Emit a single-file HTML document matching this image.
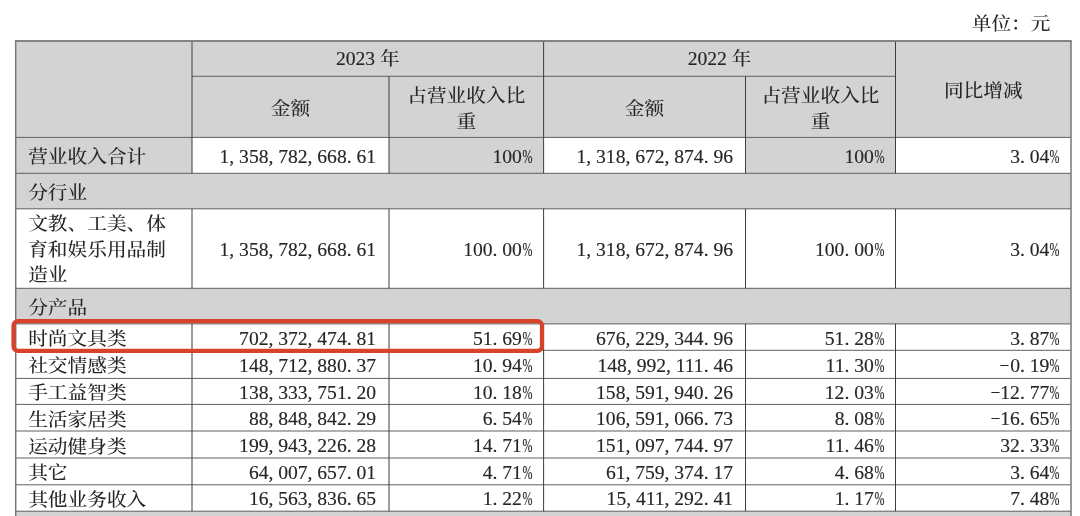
<!DOCTYPE html>
<html lang="zh-CN">
<head>
<meta charset="utf-8">
<title>营业收入构成</title>
<style>
html,body{margin:0;padding:0;background:#fff;}
body{width:1080px;height:516px;position:relative;overflow:hidden;
 font-family:"Liberation Serif","Noto Serif CJK SC",serif;color:#262626;}
svg{position:absolute;left:0;top:0;}
.c,.n{position:absolute;display:flex;align-items:center;white-space:nowrap;}
.c{justify-content:center;font-family:"Liberation Serif","Noto Serif CJK SC",serif;font-weight:500;font-size:19.7px;line-height:26px;text-align:center;}
.c.l{justify-content:flex-start;text-align:left;}
.c em{font-style:normal;font-weight:400;-webkit-text-stroke:0.15px #262626;font-size:19.6px;letter-spacing:-0.02px;}
.n{justify-content:flex-end;-webkit-text-stroke:0.15px #262626;font-family:"Liberation Serif",serif;font-size:19.6px;letter-spacing:-0.02px;line-height:26px;}
.n i{font-style:normal;display:inline-block;width:9.78px;text-align:left;letter-spacing:0;}
.n i b{font-weight:normal;display:inline-block;transform-origin:0 50%;}
.n i.p b{transform:translateX(0.6px) scaleX(.61);}
.n i.m b{transform:translateX(-0.5px) scaleX(.9);-webkit-text-stroke:0;}
.c span{display:block;position:relative;top:1px;transform:scaleY(.94);}
.n span{display:block;position:relative;top:1.5px;}
</style>
</head>
<body>
<svg width="1080" height="516" viewBox="0 0 1080 516">
<rect x="15.70" y="41.00" width="1055.30" height="96.40" fill="#d3d3d3"/>
<rect x="15.70" y="137.40" width="176.30" height="35.90" fill="#d3d3d3"/>
<rect x="389.00" y="137.40" width="154.60" height="35.90" fill="#d3d3d3"/>
<rect x="745.50" y="137.40" width="150.00" height="35.90" fill="#d3d3d3"/>
<rect x="15.70" y="173.30" width="1055.30" height="35.50" fill="#d3d3d3"/>
<rect x="15.70" y="288.30" width="1055.30" height="35.60" fill="#d3d3d3"/>
<rect x="15.70" y="511.20" width="1055.30" height="4.80" fill="#d3d3d3"/>
<rect x="192.00" y="75.80" width="703.50" height="1.00" fill="#606060"/>
<rect x="15.70" y="136.90" width="1055.30" height="1.00" fill="#606060"/>
<rect x="15.70" y="172.80" width="1055.30" height="1.00" fill="#606060"/>
<rect x="15.70" y="208.30" width="1055.30" height="1.00" fill="#606060"/>
<rect x="15.70" y="287.80" width="1055.30" height="1.00" fill="#606060"/>
<rect x="15.70" y="323.40" width="1055.30" height="1.00" fill="#606060"/>
<rect x="15.70" y="349.80" width="1055.30" height="1.00" fill="#606060"/>
<rect x="15.70" y="377.90" width="1055.30" height="1.00" fill="#606060"/>
<rect x="15.70" y="403.90" width="1055.30" height="1.00" fill="#606060"/>
<rect x="15.70" y="430.50" width="1055.30" height="1.00" fill="#606060"/>
<rect x="15.70" y="457.50" width="1055.30" height="1.00" fill="#606060"/>
<rect x="15.70" y="484.30" width="1055.30" height="1.00" fill="#606060"/>
<rect x="15.70" y="510.70" width="1055.30" height="1.00" fill="#606060"/>
<rect x="191.50" y="41.00" width="1.00" height="132.30" fill="#3e3e3e"/>
<rect x="191.50" y="208.80" width="1.00" height="79.50" fill="#3e3e3e"/>
<rect x="191.50" y="323.90" width="1.00" height="187.30" fill="#3e3e3e"/>
<rect x="388.50" y="76.30" width="1.00" height="97.00" fill="#3e3e3e"/>
<rect x="388.50" y="208.80" width="1.00" height="79.50" fill="#3e3e3e"/>
<rect x="388.50" y="323.90" width="1.00" height="187.30" fill="#3e3e3e"/>
<rect x="745.00" y="76.30" width="1.00" height="97.00" fill="#3e3e3e"/>
<rect x="745.00" y="208.80" width="1.00" height="79.50" fill="#3e3e3e"/>
<rect x="745.00" y="323.90" width="1.00" height="187.30" fill="#3e3e3e"/>
<rect x="543.10" y="41.00" width="1.00" height="132.30" fill="#3e3e3e"/>
<rect x="543.10" y="208.80" width="1.00" height="79.50" fill="#3e3e3e"/>
<rect x="543.10" y="323.90" width="1.00" height="187.30" fill="#3e3e3e"/>
<rect x="895.00" y="41.00" width="1.00" height="132.30" fill="#3e3e3e"/>
<rect x="895.00" y="208.80" width="1.00" height="79.50" fill="#3e3e3e"/>
<rect x="895.00" y="323.90" width="1.00" height="187.30" fill="#3e3e3e"/>
<rect x="14.95" y="40.10" width="1056.80" height="1.80" fill="#787878"/>
<rect x="14.95" y="41.00" width="1.50" height="475.00" fill="#787878"/>
<rect x="1070.25" y="41.00" width="1.50" height="475.00" fill="#787878"/>
<rect x="13.5" y="321.1" width="528.5" height="29.7" rx="4.5" ry="4.5" fill="none" stroke="#d8412a" stroke-width="4.2"/>
</svg>
<div class="c" style="left:900px;width:150.5px;top:8.5px;height:27px;justify-content:flex-end"><span>单位：元</span></div>
<div class="c" style="left:192.0px;width:351.6px;top:41.0px;height:33.7px;"><span><em>2023</em> 年</span></div>
<div class="c" style="left:543.6px;width:351.9px;top:41.0px;height:33.7px;"><span><em>2022</em> 年</span></div>
<div class="c" style="left:192.0px;width:197.0px;top:76.3px;height:61.1px;"><span>金额</span></div>
<div class="c" style="left:543.6px;width:201.9px;top:76.3px;height:61.1px;"><span>金额</span></div>
<div class="c" style="left:389.0px;width:154.6px;top:76.3px;height:61.1px;line-height:27.4px;padding-top:1.9px;"><span>占营业收入比<br>重</span></div>
<div class="c" style="left:745.5px;width:150.0px;top:76.3px;height:61.1px;line-height:27.4px;padding-top:1.9px;"><span>占营业收入比<br>重</span></div>
<div class="c" style="left:895.5px;width:175.5px;top:41.0px;height:96.4px;"><span>同比增减</span></div>
<div class="c l" style="left:28.2px;width:160px;top:137.4px;height:35.9px;"><span>营业收入合计</span></div>
<div class="n" style="left:192.0px;width:184.0px;top:137.4px;height:35.9px"><span>1<i>,</i>358<i>,</i>782<i>,</i>668<i>.</i>61</span></div>
<div class="n" style="left:389.0px;width:142.6px;top:137.4px;height:35.9px"><span>100<i class="p"><b>%</b></i></span></div>
<div class="n" style="left:543.6px;width:189.4px;top:137.4px;height:35.9px"><span>1<i>,</i>318<i>,</i>672<i>,</i>874<i>.</i>96</span></div>
<div class="n" style="left:745.5px;width:138.0px;top:137.4px;height:35.9px"><span>100<i class="p"><b>%</b></i></span></div>
<div class="n" style="left:895.5px;width:163.5px;top:137.4px;height:35.9px"><span>3<i>.</i>04<i class="p"><b>%</b></i></span></div>
<div class="c l" style="left:28.2px;width:160px;top:173.3px;height:35.5px;"><span>分行业</span></div>
<div class="c l" style="left:28.2px;width:160px;top:208.8px;height:79.5px;line-height:27.1px;"><span>文教、工美、体<br>育和娱乐用品制<br>造业</span></div>
<div class="n" style="left:192.0px;width:184.0px;top:208.8px;height:79.5px"><span>1<i>,</i>358<i>,</i>782<i>,</i>668<i>.</i>61</span></div>
<div class="n" style="left:389.0px;width:142.6px;top:208.8px;height:79.5px"><span>100<i>.</i>00<i class="p"><b>%</b></i></span></div>
<div class="n" style="left:543.6px;width:189.4px;top:208.8px;height:79.5px"><span>1<i>,</i>318<i>,</i>672<i>,</i>874<i>.</i>96</span></div>
<div class="n" style="left:745.5px;width:138.0px;top:208.8px;height:79.5px"><span>100<i>.</i>00<i class="p"><b>%</b></i></span></div>
<div class="n" style="left:895.5px;width:163.5px;top:208.8px;height:79.5px"><span>3<i>.</i>04<i class="p"><b>%</b></i></span></div>
<div class="c l" style="left:28.2px;width:160px;top:288.3px;height:35.6px;"><span>分产品</span></div>
<div class="c l" style="left:28.2px;width:160px;top:323.9px;height:26.4px;"><span>时尚文具类</span></div>
<div class="n" style="left:192.0px;width:184.0px;top:323.9px;height:26.4px"><span>702<i>,</i>372<i>,</i>474<i>.</i>81</span></div>
<div class="n" style="left:389.0px;width:142.6px;top:323.9px;height:26.4px"><span>51<i>.</i>69<i class="p"><b>%</b></i></span></div>
<div class="n" style="left:543.6px;width:189.4px;top:323.9px;height:26.4px"><span>676<i>,</i>229<i>,</i>344<i>.</i>96</span></div>
<div class="n" style="left:745.5px;width:138.0px;top:323.9px;height:26.4px"><span>51<i>.</i>28<i class="p"><b>%</b></i></span></div>
<div class="n" style="left:895.5px;width:163.5px;top:323.9px;height:26.4px"><span>3<i>.</i>87<i class="p"><b>%</b></i></span></div>
<div class="c l" style="left:28.2px;width:160px;top:350.3px;height:28.1px;"><span>社交情感类</span></div>
<div class="n" style="left:192.0px;width:184.0px;top:350.3px;height:28.1px"><span>148<i>,</i>712<i>,</i>880<i>.</i>37</span></div>
<div class="n" style="left:389.0px;width:142.6px;top:350.3px;height:28.1px"><span>10<i>.</i>94<i class="p"><b>%</b></i></span></div>
<div class="n" style="left:543.6px;width:189.4px;top:350.3px;height:28.1px"><span>148<i>,</i>992<i>,</i>111<i>.</i>46</span></div>
<div class="n" style="left:745.5px;width:138.0px;top:350.3px;height:28.1px"><span>11<i>.</i>30<i class="p"><b>%</b></i></span></div>
<div class="n" style="left:895.5px;width:163.5px;top:350.3px;height:28.1px"><span><i class="m"><b>−</b></i>0<i>.</i>19<i class="p"><b>%</b></i></span></div>
<div class="c l" style="left:28.2px;width:160px;top:378.4px;height:26.0px;"><span>手工益智类</span></div>
<div class="n" style="left:192.0px;width:184.0px;top:378.4px;height:26.0px"><span>138<i>,</i>333<i>,</i>751<i>.</i>20</span></div>
<div class="n" style="left:389.0px;width:142.6px;top:378.4px;height:26.0px"><span>10<i>.</i>18<i class="p"><b>%</b></i></span></div>
<div class="n" style="left:543.6px;width:189.4px;top:378.4px;height:26.0px"><span>158<i>,</i>591<i>,</i>940<i>.</i>26</span></div>
<div class="n" style="left:745.5px;width:138.0px;top:378.4px;height:26.0px"><span>12<i>.</i>03<i class="p"><b>%</b></i></span></div>
<div class="n" style="left:895.5px;width:163.5px;top:378.4px;height:26.0px"><span><i class="m"><b>−</b></i>12<i>.</i>77<i class="p"><b>%</b></i></span></div>
<div class="c l" style="left:28.2px;width:160px;top:404.4px;height:26.6px;"><span>生活家居类</span></div>
<div class="n" style="left:192.0px;width:184.0px;top:404.4px;height:26.6px"><span>88<i>,</i>848<i>,</i>842<i>.</i>29</span></div>
<div class="n" style="left:389.0px;width:142.6px;top:404.4px;height:26.6px"><span>6<i>.</i>54<i class="p"><b>%</b></i></span></div>
<div class="n" style="left:543.6px;width:189.4px;top:404.4px;height:26.6px"><span>106<i>,</i>591<i>,</i>066<i>.</i>73</span></div>
<div class="n" style="left:745.5px;width:138.0px;top:404.4px;height:26.6px"><span>8<i>.</i>08<i class="p"><b>%</b></i></span></div>
<div class="n" style="left:895.5px;width:163.5px;top:404.4px;height:26.6px"><span><i class="m"><b>−</b></i>16<i>.</i>65<i class="p"><b>%</b></i></span></div>
<div class="c l" style="left:28.2px;width:160px;top:431.0px;height:27.0px;"><span>运动健身类</span></div>
<div class="n" style="left:192.0px;width:184.0px;top:431.0px;height:27.0px"><span>199<i>,</i>943<i>,</i>226<i>.</i>28</span></div>
<div class="n" style="left:389.0px;width:142.6px;top:431.0px;height:27.0px"><span>14<i>.</i>71<i class="p"><b>%</b></i></span></div>
<div class="n" style="left:543.6px;width:189.4px;top:431.0px;height:27.0px"><span>151<i>,</i>097<i>,</i>744<i>.</i>97</span></div>
<div class="n" style="left:745.5px;width:138.0px;top:431.0px;height:27.0px"><span>11<i>.</i>46<i class="p"><b>%</b></i></span></div>
<div class="n" style="left:895.5px;width:163.5px;top:431.0px;height:27.0px"><span>32<i>.</i>33<i class="p"><b>%</b></i></span></div>
<div class="c l" style="left:28.2px;width:160px;top:458.0px;height:26.8px;"><span>其它</span></div>
<div class="n" style="left:192.0px;width:184.0px;top:458.0px;height:26.8px"><span>64<i>,</i>007<i>,</i>657<i>.</i>01</span></div>
<div class="n" style="left:389.0px;width:142.6px;top:458.0px;height:26.8px"><span>4<i>.</i>71<i class="p"><b>%</b></i></span></div>
<div class="n" style="left:543.6px;width:189.4px;top:458.0px;height:26.8px"><span>61<i>,</i>759<i>,</i>374<i>.</i>17</span></div>
<div class="n" style="left:745.5px;width:138.0px;top:458.0px;height:26.8px"><span>4<i>.</i>68<i class="p"><b>%</b></i></span></div>
<div class="n" style="left:895.5px;width:163.5px;top:458.0px;height:26.8px"><span>3<i>.</i>64<i class="p"><b>%</b></i></span></div>
<div class="c l" style="left:28.2px;width:160px;top:484.8px;height:26.4px;"><span>其他业务收入</span></div>
<div class="n" style="left:192.0px;width:184.0px;top:484.8px;height:26.4px"><span>16<i>,</i>563<i>,</i>836<i>.</i>65</span></div>
<div class="n" style="left:389.0px;width:142.6px;top:484.8px;height:26.4px"><span>1<i>.</i>22<i class="p"><b>%</b></i></span></div>
<div class="n" style="left:543.6px;width:189.4px;top:484.8px;height:26.4px"><span>15<i>,</i>411<i>,</i>292<i>.</i>41</span></div>
<div class="n" style="left:745.5px;width:138.0px;top:484.8px;height:26.4px"><span>1<i>.</i>17<i class="p"><b>%</b></i></span></div>
<div class="n" style="left:895.5px;width:163.5px;top:484.8px;height:26.4px"><span>7<i>.</i>48<i class="p"><b>%</b></i></span></div>
</body>
</html>
